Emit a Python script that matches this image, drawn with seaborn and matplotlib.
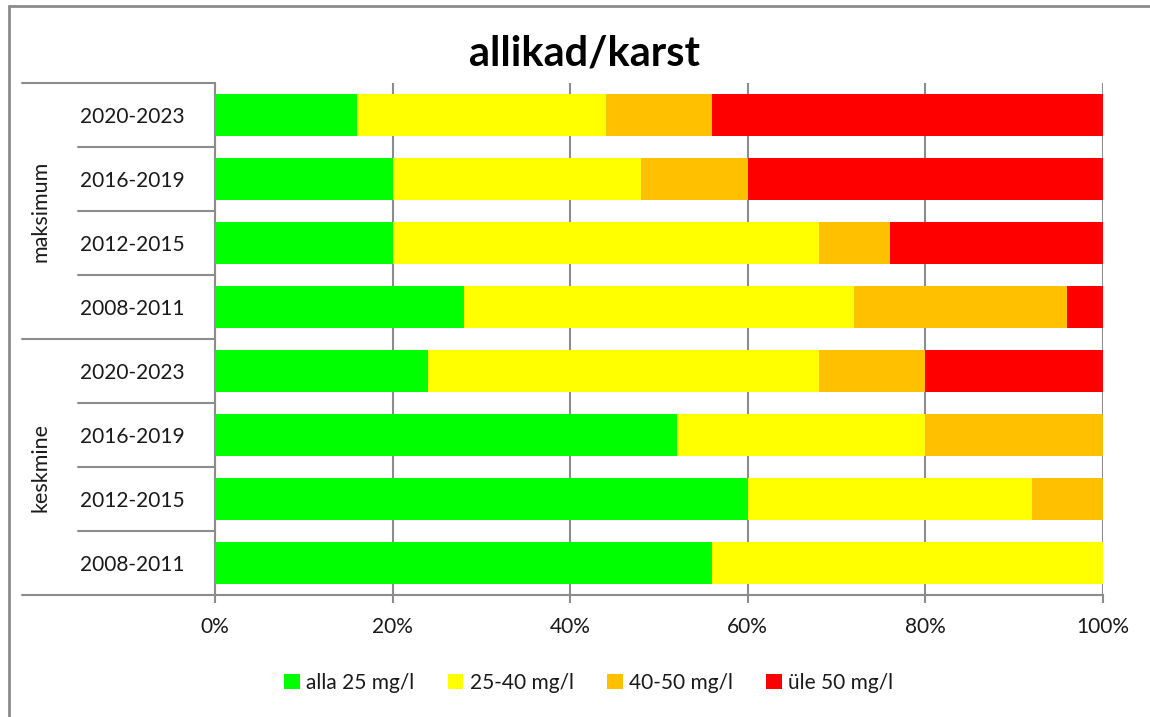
import matplotlib
matplotlib.use("Agg")
import matplotlib.pyplot as plt
import matplotlib.transforms as mtransforms
from matplotlib.lines import Line2D
from matplotlib.patches import Patch
import seaborn as sns
import pandas as pd
import numpy as np

# data (share of sites, %)
groups = ['maksimum'] * 4 + ['keskmine'] * 4
periods = ['2020-2023', '2016-2019', '2012-2015', '2008-2011'] * 2
alla_25 = [16, 20, 20, 28, 24, 52, 60, 56]
v25_40 = [28, 28, 48, 44, 44, 28, 32, 44]
v40_50 = [12, 12, 8, 24, 12, 20, 8, 0]
ule_50 = [44, 40, 24, 4, 20, 0, 0, 0]

series = ['alla 25 mg/l', '25-40 mg/l', '40-50 mg/l', 'üle 50 mg/l']
colors = ['#00FF00', '#FFFF00', '#FFC000', '#FF0000']

df = pd.DataFrame({'group': groups, 'period': periods,
                   series[0]: alla_25, series[1]: v25_40,
                   series[2]: v40_50, series[3]: ule_50})
df['key'] = df['group'] + ' ' + df['period']
cum = df[series].cumsum(axis=1)

sns.set_theme(style='white')
plt.rcParams['font.family'] = ['Lato', 'DejaVu Sans']
text_col = '#1a1a1a'
grid_col = '#8c8c8c'

fig = plt.figure(figsize=(11.5, 7.17), dpi=100)
ax = fig.add_axes([215 / 1150, 1 - 595 / 717, 888 / 1150, 512 / 717])

# stacked bars: draw cumulative totals from the last series back to the first
for name, col in reversed(list(zip(series, colors))):
    sns.barplot(x=cum[name], y=df['key'], color=col, saturation=1,
                width=0.66, orient='h', ax=ax, linewidth=0, zorder=3)

ax.set_xlim(0, 100)
ax.set_ylim(7.5, -0.5)
ax.set_xticks(np.arange(0, 101, 20))
ax.set_xticklabels([f'{v}%' for v in range(0, 101, 20)])
ax.set_yticks(range(len(df)))
ax.set_yticklabels(df['period'])
ax.set_xlabel('')
ax.set_ylabel('')
ax.set_axisbelow(True)
ax.xaxis.grid(True, color=grid_col, lw=1.5, zorder=0)
ax.yaxis.grid(False)
for s in ['top', 'right']:
    ax.spines[s].set_visible(False)
for s in ['left', 'bottom']:
    ax.spines[s].set_color(grid_col)
    ax.spines[s].set_linewidth(1.5)
ax.tick_params(axis='x', length=6, width=1.5, color=grid_col, pad=10,
               labelsize=15, labelcolor=text_col, bottom=True)
ax.tick_params(axis='y', length=0, pad=22, labelsize=15, labelcolor=text_col)

# category axis separators (multi-level labels)
trans = mtransforms.blended_transform_factory(ax.transAxes, ax.transData)
short_x = (78 - 215) / 888
long_x = (22 - 215) / 888
for yb in [0.5, 1.5, 2.5, 4.5, 5.5, 6.5]:
    ax.plot([short_x, 0], [yb, yb], color=grid_col, lw=1.5,
            transform=trans, clip_on=False)
for yb in [-0.5, 3.5, 7.5]:
    ax.plot([long_x, 0], [yb, yb], color=grid_col, lw=1.5,
            transform=trans, clip_on=False)
label_x = (40 - 215) / 888
for g, yc in [('maksimum', 1.5), ('keskmine', 5.5)]:
    ax.text(label_x, yc, g, rotation=90, ha='center', va='center',
            fontsize=15.5, color=text_col, transform=trans)

fig.text(0.508, 1 - 54 / 717, 'allikad/karst', ha='center', va='center',
         fontsize=30, fontweight='bold', color='black')

handles = [Patch(facecolor=c, edgecolor='none') for c in colors]
fig.legend(handles, series, loc='center', bbox_to_anchor=(0.512, 1 - 683 / 717),
           ncol=4, frameon=False, fontsize=15, handlelength=0.75,
           handleheight=0.75, handletextpad=0.3, columnspacing=1.6,
           labelcolor=text_col)

# chart frame: only top and left edges are visible in the crop
fx, fy = 9 / 1150, 1 - 6 / 717
fig.lines.append(Line2D([fx, 1], [fy, fy], transform=fig.transFigure,
                        color=grid_col, lw=2))
fig.lines.append(Line2D([fx, fx], [0, fy], transform=fig.transFigure,
                        color=grid_col, lw=2))

fig.savefig('out.png', dpi=100)
